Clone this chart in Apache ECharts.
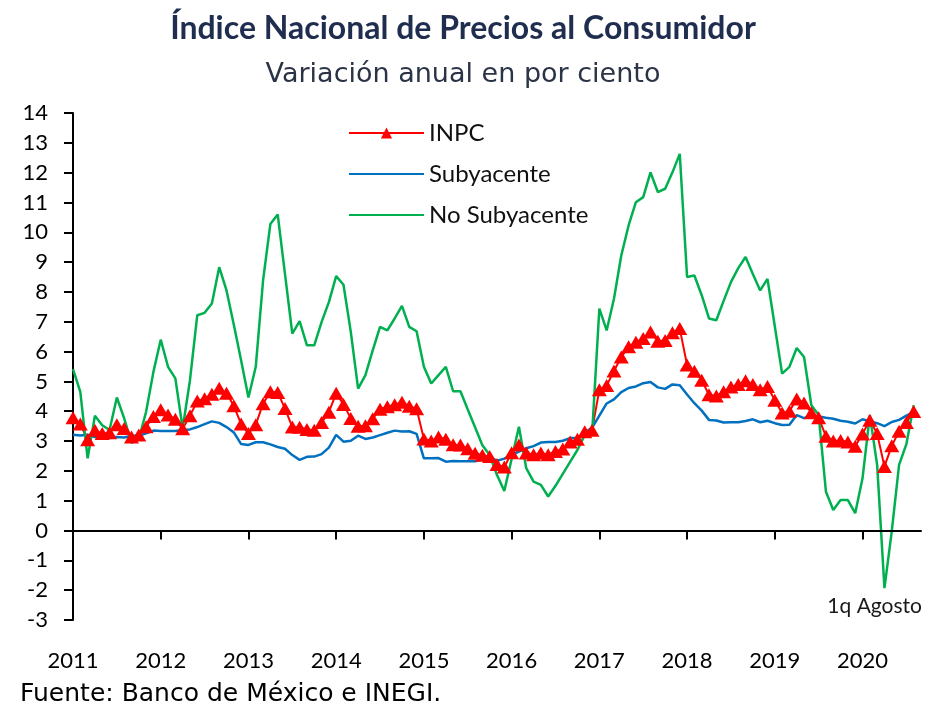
<!DOCTYPE html>
<html>
<head>
<meta charset="utf-8">
<script src="https://cdn.jsdelivr.net/npm/echarts@6/dist/echarts.min.js"></script>
<style>
  html, body { margin: 0; padding: 0; background: #fff; }
  #main { width: 926px; height: 711px; }
</style>
</head>
<body>
<div id="main"></div>
<script>
// meses ene-2011 .. ago-2020 (1q), mas un mes vacio al final para el eje
var months = [];
for (var y = 2011; y <= 2020; y++) {
  for (var m = 1; m <= 12; m++) {
    if (y === 2020 && m > 9) break;
    months.push(y + '-' + (m < 10 ? '0' + m : m));
  }
}

var inpc = [
  3.78, 3.57, 3.04, 3.36, 3.25, 3.28, 3.55, 3.42, 3.14, 3.20, 3.48, 3.82,
  4.05, 3.87, 3.73, 3.41, 3.85, 4.34, 4.42, 4.57, 4.77, 4.60, 4.18, 3.57,
  3.25, 3.55, 4.25, 4.65, 4.63, 4.09, 3.47, 3.46, 3.39, 3.36, 3.62, 3.97,
  4.60, 4.23, 3.76, 3.50, 3.51, 3.75, 4.07, 4.15, 4.22, 4.30, 4.17, 4.08,
  3.07, 3.00, 3.14, 3.06, 2.88, 2.87, 2.74, 2.59, 2.52, 2.48, 2.21, 2.13,
  2.61, 2.87, 2.60, 2.54, 2.60, 2.54, 2.65, 2.73, 2.97, 3.06, 3.31, 3.36,
  4.72, 4.86, 5.35, 5.82, 6.16, 6.31, 6.44, 6.66, 6.35, 6.37, 6.63, 6.77,
  5.55, 5.34, 5.04, 4.55, 4.51, 4.65, 4.81, 4.90, 5.02, 4.90, 4.72, 4.83,
  4.37, 3.94, 4.00, 4.41, 4.28, 3.95, 3.78, 3.16, 3.00, 3.02, 2.97, 2.83,
  3.24, 3.70, 3.25, 2.15, 2.84, 3.33, 3.62, 3.99
];

var subyacente = [
  3.21, 3.19, 3.21, 3.13, 3.13, 3.12, 3.14, 3.12, 3.18, 3.18, 3.26, 3.35,
  3.34, 3.34, 3.34, 3.37, 3.39, 3.47, 3.57, 3.66, 3.61, 3.47, 3.29, 2.90,
  2.87, 2.96, 2.96, 2.89, 2.80, 2.74, 2.53, 2.37, 2.47, 2.48, 2.56, 2.78,
  3.21, 2.98, 3.01, 3.18, 3.07, 3.12, 3.20, 3.28, 3.35, 3.32, 3.33, 3.24,
  2.42, 2.42, 2.43, 2.31, 2.33, 2.32, 2.32, 2.32, 2.38, 2.47, 2.34, 2.41,
  2.54, 2.65, 2.76, 2.83, 2.95, 2.97, 2.97, 3.01, 3.10, 3.10, 3.29, 3.44,
  3.85, 4.26, 4.40, 4.64, 4.78, 4.83, 4.94, 4.98, 4.80, 4.75, 4.90, 4.87,
  4.56, 4.27, 4.02, 3.71, 3.69, 3.62, 3.63, 3.63, 3.67, 3.73, 3.63, 3.68,
  3.60, 3.54, 3.55, 3.87, 3.77, 3.85, 3.82, 3.78, 3.75, 3.68, 3.65, 3.59,
  3.73, 3.66, 3.60, 3.50, 3.64, 3.71, 3.85, 3.97
];

var noSubyacente = [
  5.41, 4.65, 2.42, 3.85, 3.53, 3.37, 4.46, 3.76, 2.94, 3.07, 3.98, 5.32,
  6.40, 5.49, 5.10, 3.42, 5.04, 7.22, 7.30, 7.61, 8.83, 8.05, 6.90, 5.70,
  4.46, 5.49, 8.39, 10.28, 10.60, 8.60, 6.60, 7.02, 6.21, 6.21, 6.99, 7.66,
  8.53, 8.24, 6.66, 4.76, 5.21, 6.04, 6.83, 6.71, 7.11, 7.53, 6.83, 6.68,
  5.49, 4.93, 5.21, 5.49, 4.67, 4.67, 4.06, 3.46, 2.86, 2.53, 1.86, 1.33,
  2.40, 3.48, 2.09, 1.64, 1.53, 1.14, 1.50, 1.90, 2.30, 2.70, 3.20, 3.20,
  7.44, 6.71, 7.77, 9.22, 10.23, 11.01, 11.18, 12.01, 11.35, 11.46, 12.01, 12.63,
  8.50, 8.55, 7.89, 7.11, 7.05, 7.70, 8.33, 8.80, 9.17, 8.60, 8.05, 8.44,
  6.85, 5.26, 5.49, 6.12, 5.82, 4.20, 3.87, 1.30, 0.69, 1.02, 1.02, 0.58,
  1.75, 3.87, 2.20, -1.93, -0.03, 2.20, 2.90, 4.20
];

var FONT = 'Lato, "Liberation Sans", sans-serif';
var WIDE = '"DejaVu Sans", Verdana, sans-serif';

var myChart = echarts.init(document.getElementById('main'));
myChart.setOption({
  backgroundColor: '#fff',
  animation: false,
  textStyle: { fontFamily: FONT },
  title: [
    {
      text: 'Índice Nacional de Precios al Consumidor',
      left: 'center', top: 8,
      textStyle: { fontFamily: FONT, fontSize: 32, fontWeight: 'bold', color: '#1f2d4f' }
    },
    {
      text: 'Variación anual en por ciento',
      left: 'center', top: 56,
      textStyle: { fontFamily: WIDE, fontSize: 27, fontWeight: 'normal', color: '#2b3446' }
    }
  ],
  legend: {
    orient: 'vertical',
    left: 343, top: 115,
    itemWidth: 75, itemHeight: 14, itemGap: 15,
    textStyle: { fontSize: 24, color: '#111', lineHeight: 26 },
    data: [
      'INPC',
      { name: 'Subyacente', itemStyle: { opacity: 0 } },
      { name: 'No Subyacente', itemStyle: { opacity: 0 } }
    ]
  },
  grid: { left: 73, right: 5, top: 113, bottom: 91 },
  xAxis: {
    type: 'category',
    boundaryGap: false,
    data: months,
    axisLine: { lineStyle: { color: '#000', width: 2 } },
    axisTick: {
      length: 9,
      lineStyle: { color: '#000', width: 2 },
      interval: function (i) { return i % 12 === 0; }
    },
    axisLabel: {
      margin: 30, fontSize: 22, color: '#000',
      interval: function (i) { return i % 12 === 0; },
      formatter: function (v) { return v.slice(0, 4); }
    },
    splitLine: { show: false }
  },
  yAxis: {
    type: 'value',
    min: -3, max: 14, interval: 1,
    axisLine: { show: true, lineStyle: { color: '#000', width: 2 } },
    axisTick: { show: true, length: 9, lineStyle: { color: '#000', width: 2 } },
    axisLabel: { margin: 25, fontSize: 22, color: '#000' },
    splitLine: { show: false }
  },
  series: [
    {
      name: 'INPC',
      type: 'line',
      data: inpc,
      color: '#ff0000',
      symbol: 'triangle',
      symbolSize: [15, 13],
      showAllSymbol: true,
      lineStyle: { width: 2, color: '#ff0000' },
      itemStyle: { color: '#ff0000' },
      markLine: {
        silent: true,
        symbol: 'none',
        label: { show: false },
        lineStyle: { color: '#000', width: 2, type: 'solid' },
        data: [[{ coord: [months[0], 0] }, { coord: [months[114], 0] }]]
      }
    },
    {
      name: 'Subyacente',
      type: 'line',
      data: subyacente,
      color: '#0070c0',
      showSymbol: false,
      symbol: 'none',
      lineStyle: { width: 2.5, color: '#0070c0' }
    },
    {
      name: 'No Subyacente',
      type: 'line',
      data: noSubyacente,
      color: '#00b050',
      showSymbol: false,
      symbol: 'none',
      lineStyle: { width: 2.5, color: '#00b050' }
    }
  ],
  graphic: [
    {
      type: 'text', right: 4, top: 596,
      style: { text: '1q Agosto', fontFamily: FONT, fontSize: 21, fill: '#1a1a1a' }
    },
    {
      type: 'text', left: 20, top: 682,
      style: { text: 'Fuente: Banco de México e INEGI.', fontFamily: WIDE, fontSize: 25, fill: '#000' }
    }
  ]
});
</script>
</body>
</html>
